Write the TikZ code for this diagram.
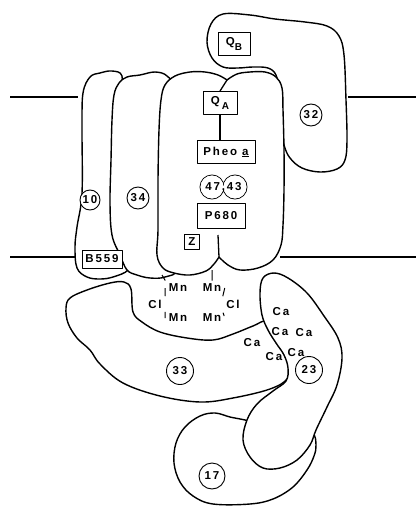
\documentclass[tikz,border=0pt]{standalone}
\usepackage{fontspec}
\setmainfont{Liberation Sans}
\newfontfamily\psfont[LetterSpace=16]{Liberation Sans}
\begin{document}
\begin{tikzpicture}[x=1pt,y=-1pt,line join=round,
  subunit/.style={line width=1.4pt,fill=white},
  cof/.style={draw,line width=0.9pt,fill=white,inner sep=0pt},
  num/.style={draw,circle,line width=0.9pt,fill=white,inner sep=0pt},
  every node/.style={font=\psfont\bfseries\fontsize{11.5}{13}\selectfont}]
\useasboundingbox (0,0) rectangle (416,506);
% membrane
\draw[line width=1.1pt] (10,97) -- (78,97) (348,97) -- (416,97);
\draw[line width=1.1pt] (10,257) -- (75,257) (280,257) -- (416,257);
% subunits in the membrane
\draw[subunit] plot[smooth cycle,tension=0.6] coordinates {(90,77) (100,73) (112,71) (122,76) (120,100) (118,160) (118,203) (122,237) (128,257) (128,270) (113,277) (100,279) (87,277) (77,268) (75,247) (77,227) (82,193) (82,127) (83,93)};
\draw[subunit] plot[smooth cycle,tension=0.6] coordinates {(127,77) (140,75) (155,72) (167,76) (172,90) (170,160) (172,230) (178,268) (165,277) (150,278) (137,275) (127,270) (120,255) (112,235) (110,203) (111,160) (112,120) (114,95) (119,83)};
\draw[subunit] plot[smooth cycle,tension=0.6] coordinates {(223,14) (250,15) (275,19) (305,22) (327,26) (339,36) (344,55) (346,100) (347,140) (345,160) (337,169) (320,172) (302,168) (290,158) (284,145) (278,120) (278,90) (276,75) (268,68) (253,67) (238,68) (223,67) (212,58) (207,42) (211,24)};
\draw[subunit] plot[smooth,tension=0.6] coordinates {(227,80) (237,74) (250,72) (265,72) (276,77) (282,88) (283,110) (284,150) (284,190) (283,225) (281,245) (273,260) (258,268) (240,270) (228,265) (219,257)}
  -- plot[smooth,tension=0.6] coordinates {(219,257) (214,264) (206,271) (190,275) (174,273) (163,268) (157,255) (158,230) (158,180) (159,130) (161,100) (165,85) (175,76) (190,72) (205,72) (218,75) (227,80)} -- cycle;
% extrinsic subunits
\draw[subunit] plot[smooth cycle,tension=0.6] coordinates {(200,416) (215,413) (230,417) (245,420) (265,425) (290,430) (312,433) (316,445) (314,456) (307,470) (293,487) (273,499) (250,504) (213,504) (193,496) (180,482) (174,463) (176,443) (185,427)};
\draw[subunit] plot[smooth cycle,tension=0.6] coordinates {(70,298) (87,290) (110,283) (124,282) (131,289) (133,312) (142,322) (160,332) (187,338) (213,340) (233,334) (253,326) (268,321) (284,335) (292,360) (288,378) (270,389) (233,398) (200,402) (160,396) (123,383) (100,364) (90,350) (77,338) (68,323) (66,308)};
\draw[subunit] plot[smooth cycle,tension=0.6] coordinates {(263,278) (274,273) (288,278) (307,293) (324,316) (338,338) (342,358) (337,385) (327,407) (316,430) (310,445) (297,460) (280,468) (263,468) (250,457) (243,440) (247,420) (257,404) (273,391) (286,381) (288,368) (284,355) (276,343) (268,330) (262,315) (260,293)};
% cofactors
\node[cof,minimum width=32,minimum height=23] (qb) at (234,44) {Q\raisebox{-5pt}{\fontsize{10}{10}\selectfont B}};
\node[cof,minimum width=34,minimum height=23] (qa) at (220,103) {Q\,\raisebox{-5pt}{\fontsize{10}{10}\selectfont A}};
\node[cof,minimum width=58,minimum height=23] (pheo) at (226,152) {Pheo \underline{a}};
\node[num,minimum size=24] (c47) at (212,187) {};
\node[num,minimum size=24] (c43) at (235,187) {};
\fill[white] (c47.center) circle (11.5pt) (c43.center) circle (11.5pt);
\node (chl) at (223.5,187) {47,43};
\node[cof,minimum width=48,minimum height=25] (p680) at (221,216) {P680};
\node[cof,minimum width=15,minimum height=15] (z) at (192,242) {Z};
\node[cof,minimum width=40,minimum height=18] (b559) at (102,259) {B559};
\coordinate (lobe) at (227,80);
\coordinate (cleftTop) at (218,235);
\coordinate (cleft) at (219,257);
\draw[line width=1.3pt] (lobe) .. controls (223,85) .. (qa.north);
\draw[line width=1.1pt] (qa.south) -- (qa.south |- pheo.north);
\draw[line width=1.3pt] (cleftTop) -- (cleft);
% numbered subunits
\foreach \n/\p/\d in {10/{90,200}/20, 34/{138,198}/22, 32/{311,115}/22, 33/{180,371}/27, 23/{309,370}/27, 17/{212,476}/26}
  \node[num,minimum size=\d] (u\n) at (\p) {\n};
% Mn cluster
\node (mn1) at (178,288) {Mn};
\node (mn2) at (212,288) {Mn};
\node (cl1) at (155,304) {Cl};
\node (cl2) at (233,304) {Cl};
\node (mn3) at (178,318) {Mn};
\node (mn4) at (212,318) {Mn};
\coordinate (mnA) at (162,275);
\coordinate (mnB) at (212,270);
\draw[line width=1pt] (mnA) -- (mn1.north west) (mnB) -- (mn2.north);
\draw[line width=1pt,shorten <=2pt,shorten >=1pt] (mn1.west) -- (cl1.north east) (mn3.west) -- (cl1.south east) (mn2.east) -- (cl2.north west) (mn4.east) -- (cl2.south west);
% calcium
\foreach \p [count=\i] in {{281,312},{280,332},{304,333},{252,343},{274,357},{296,353}}
  \node (ca\i) at (\p) {Ca};
\end{tikzpicture}
\end{document}
